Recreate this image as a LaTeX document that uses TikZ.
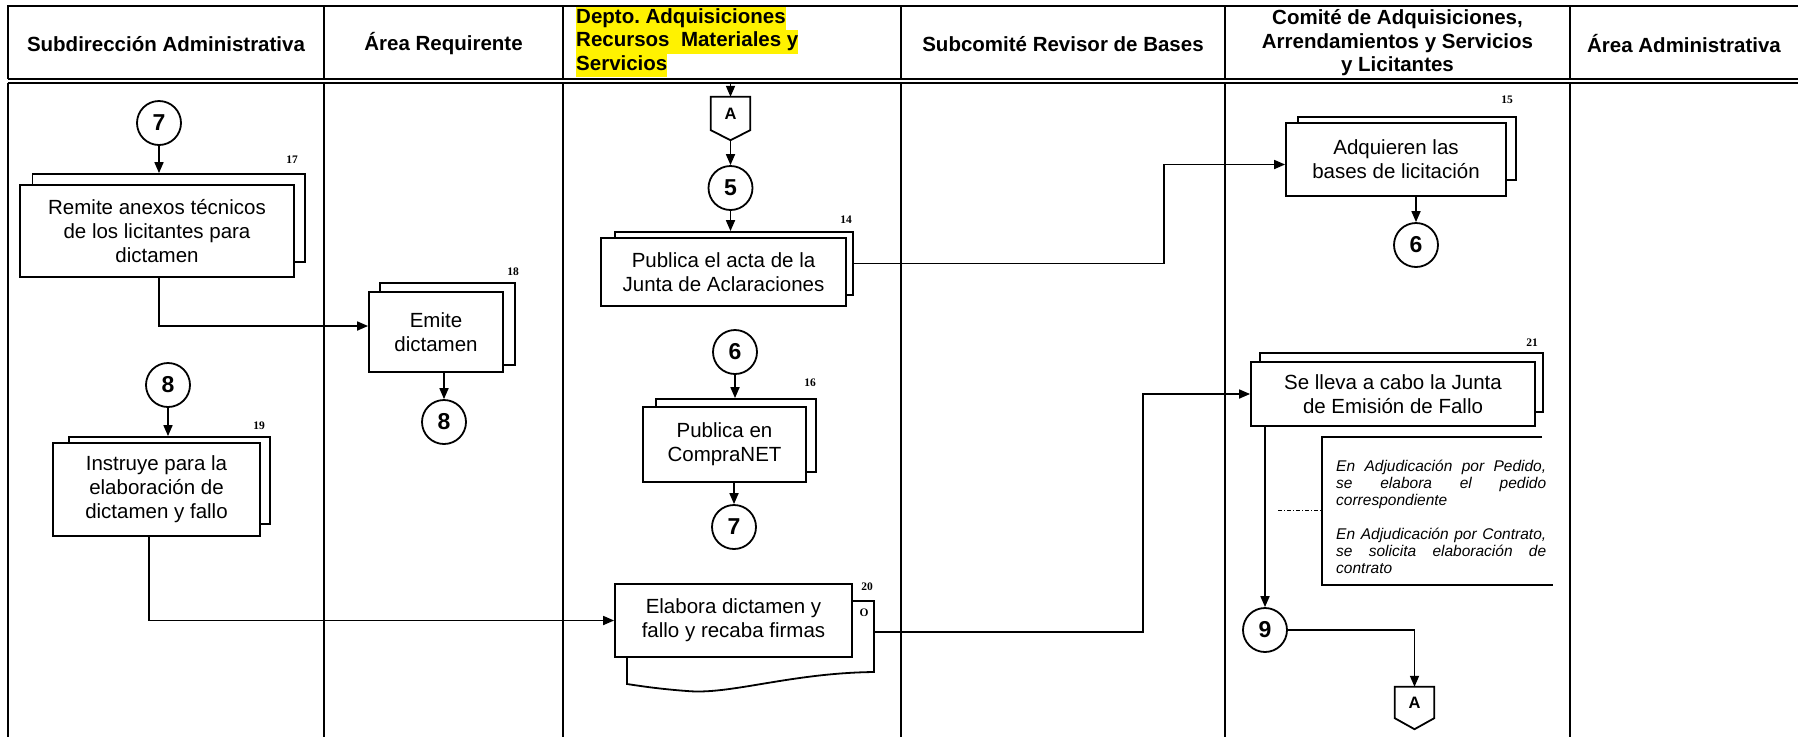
\documentclass[tikz,border=0pt]{standalone}
\usepackage{fontspec}
\setmainfont{Liberation Sans}
\newfontfamily\numfont{Liberation Serif}
\usetikzlibrary{arrows.meta,calc}
\newcommand\hlt[1]{{\setlength\fboxsep{0pt}\colorbox{yellow}{\strut #1}}}
\frenchspacing
\begin{document}
\begin{tikzpicture}[x=1pt,y=-1pt,
  lane/.style={line width=2pt},
  box/.style={draw, line width=1.8pt, fill=white, align=center, font=\fontsize{20.5}{24}\selectfont, inner sep=0pt},
  backbox/.style={draw, line width=1.8pt, fill=white, inner sep=0pt},
  conn/.style={draw, circle, line width=1.8pt, minimum size=44pt, inner sep=0pt, font=\fontsize{23}{23}\bfseries\selectfont},
  arr/.style={line width=1.7pt, -{Triangle[length=11pt,width=9pt]}},
  ln/.style={line width=1.8pt},
  stepnum/.style={font=\numfont\bfseries\fontsize{11.5}{12}\selectfont, inner sep=0pt},
  hdr/.style={font=\bfseries\fontsize{20.5}{23.5}\selectfont, align=center, inner sep=0pt},
  offp/.style={inner sep=0pt, minimum width=39pt, font=\bfseries\fontsize{16.5}{16.5}\selectfont},
]
\useasboundingbox (0,0) rectangle (1798,737);
\fill[white] (0,0) rectangle (1798,737);
% header frame
\draw[lane] (7.5,6) -- (1798,6);
\draw[lane] (7.5,79) -- (1798,79);
\draw[lane] (7.5,82.5) -- (1798,82.5);
\foreach \x in {7.5,324,563,901,1225,1570}{
  \draw[lane] (\x,5) -- (\x,79);
  \draw[lane] (\x,82.5) -- (\x,737);
}
% header texts
\node[hdr] (h1) at (166,44) {Subdirección Administrativa};
\node[hdr] (h2) at (443.5,44) {Área Requirente};
\node[hdr, align=left, anchor=west] (h3) at (576,42) {\hlt{Depto. Adquisiciones}\\\hlt{Recursos\ \ Materiales y}\\\hlt{Servicios}};
\node[hdr] (h4) at (1063,44) {Subcomité Revisor de Bases};
\node[hdr] (h5) at (1397.5,43) {Comité de Adquisiciones,\\Arrendamientos y Servicios\\y Licitantes};
\node[hdr] (h6) at (1684,44) {Área Administrativa};

% circles
\node[conn] (c7a) at (159,123) {7};
\node[conn] (c8a) at (168,385) {8};
\node[conn] (c8b) at (444,422) {8};
\node[conn] (c5) at (730.5,188) {5};
\node[conn] (c6a) at (735,352) {6};
\node[conn] (c7b) at (734,527) {7};
\node[conn] (c6b) at (1416,245) {6};
\node[conn] (c9) at (1265,630) {9};

% boxes
\node[backbox, minimum width=272.5pt, minimum height=88pt] (b17b) at (168.75,218) {};
\node[box, minimum width=274pt, minimum height=92pt] (b17) at (157,231) {Remite anexos técnicos\\de los licitantes para\\dictamen};
\node[backbox, minimum width=135pt, minimum height=82pt] (b18b) at (447.5,324) {};
\node[box, minimum width=134pt, minimum height=80pt] (b18) at (436,332) {Emite\\dictamen};
\node[backbox, minimum width=201pt, minimum height=87pt] (b19b) at (169.5,480.5) {};
\node[box, minimum width=207pt, minimum height=93pt] (b19) at (156.5,489.5) {Instruye para la\\elaboración de\\dictamen y fallo};
\node[backbox, minimum width=238pt, minimum height=63pt] (b14b) at (734,263.5) {};
\node[box, minimum width=245pt, minimum height=68pt] (b14) at (723.5,272) {Publica el acta de la\\Junta de Aclaraciones};
\node[backbox, minimum width=160pt, minimum height=73pt] (b16b) at (736,435.5) {};
\node[box, minimum width=163pt, minimum height=75pt] (b16) at (724.5,444.5) {Publica en\\CompraNET};
\node[backbox, minimum width=218pt, minimum height=63pt] (b15b) at (1407,148.5) {};
\node[box, minimum width=220pt, minimum height=73pt] (b15) at (1396,159.5) {Adquieren las\\bases de licitación};
\node[backbox, minimum width=283pt, minimum height=59pt] (b21b) at (1401.5,382.5) {};
\node[box, minimum width=284pt, minimum height=64pt] (b21) at (1393,394) {Se lleva a cabo la Junta\\de Emisión de Fallo};
% document box 20
\draw[ln, fill=white] (627,601) -- (874,601) -- (874,672) .. controls (790,673) and (730,695) .. (687,691) .. controls (660,689) and (640,686) .. (627,684) -- cycle;
\coordinate (b20b) at (874,632);
\node[box, minimum width=237pt, minimum height=73pt] (b20) at (733.5,620.5) {Elabora dictamen y\\fallo y recaba firmas};

% step numbers
\node[stepnum] (n17) at (292,160) {17};
\node[stepnum] (n18) at (513,272) {18};
\node[stepnum] (n19) at (259,426) {19};
\node[stepnum] (n14) at (846,220) {14};
\node[stepnum] (n16) at (810,383) {16};
\node[stepnum] (n20) at (867,587) {20};
\node[stepnum] (o20) at (864,613) {O};
\node[stepnum] (n15) at (1507,100) {15};
\node[stepnum] (n21) at (1532,343) {21};

% off-page connectors
\node[offp, minimum height=33pt] (A1) at (730.5,113.5) {A};
\draw[ln] (A1.north west) -- (A1.north east) -- (A1.south east) -- ($(A1.south)+(0,10)$) -- (A1.south west) -- cycle;
\coordinate (A1tip) at ($(A1.south)+(0,10)$);
\coordinate (a1in) at (730.5,82.5);
\node[offp, minimum height=31pt] (A2) at (1414.5,702.5) {A};
\draw[ln] (A2.north west) -- (A2.north east) -- (A2.south east) -- ($(A2.south)+(0,11)$) -- (A2.south west) -- cycle;

% connectors
\draw[arr] (a1in) -- (A1.north);
\draw[arr] (A1tip) -- (c5);
\draw[arr] (c5) -- (c5 |- b14b.north);
\draw[arr] (c7a) -- (c7a |- b17b.north);
\draw[arr] (b17.south -| c7a) |- ([yshift=6pt]b18.west);
\draw[arr] (c8b |- b18.south) -- (c8b);
\draw[arr] (c8a) -- (c8a |- b19b.north);
\draw[arr] ([xshift=-7.5pt]b19.south) |- (b20.west);
\draw[arr] (b14b.east) -- ++(310,0) |- ([yshift=-5pt]b15.west);
\draw[arr] (c6a) -- (c6a |- b16b.north);
\draw[arr] (c7b |- b16.south) -- (c7b);
\draw[arr] (c6b |- b15.south) -- (c6b);
\draw[arr] (b20b) -- ++(269,0) |- (b21.west);
\draw[arr] (c9 |- b21.south) -- (c9);
\draw[arr] (c9) -| (A2.north);

% annotation
\draw[ln] (1542,437) -- (1322,437) -- (1322,585) -- (1553,585);
\coordinate (notel) at (1322,510);
\coordinate (noted) at (1278,510);
\draw[line width=1pt, dash pattern=on 4pt off 2pt on 1pt off 2pt] (noted) -- (notel);
\node[anchor=north west, text width=210pt, align=justify, inner sep=0pt, font=\itshape\fontsize{15.5}{17}\selectfont] (note) at (1336,460) {En Adjudicación por Pedido,\linebreak se elabora el pedido\linebreak correspondiente\par\vspace{17pt}En Adjudicación por Contrato,\linebreak se solicita elaboración de\linebreak contrato};
\end{tikzpicture}
\end{document}
